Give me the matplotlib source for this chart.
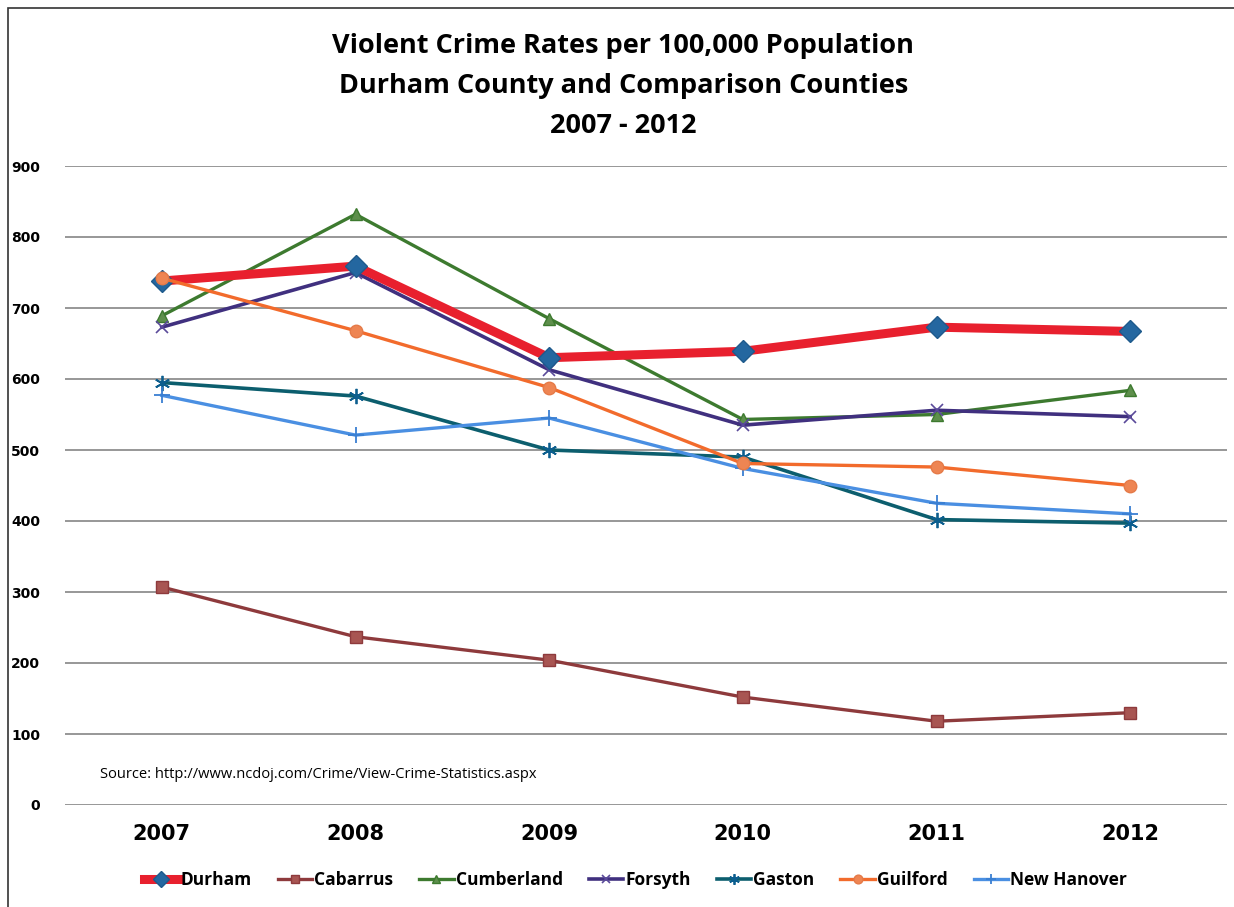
import matplotlib
matplotlib.use("Agg")
import matplotlib.pyplot as plt
from matplotlib.patches import Rectangle

years = ["2007", "2008", "2009", "2010", "2011", "2012"]
durham = [738, 759, 630, 639, 673, 667]
cabarrus = [307, 237, 204, 152, 118, 130]
cumberland = [689, 832, 685, 543, 550, 584]
forsyth = [673, 750, 613, 535, 556, 547]
gaston = [595, 576, 500, 490, 402, 397]
guilford = [742, 668, 588, 481, 476, 450]
new_hanover = [577, 521, 545, 474, 425, 410]

series = [
    ("Durham", durham, dict(color="#E8202E", lw=6.5, marker="D", ms=11, mfc="#2467A0", mec="#1E5A8C", zorder=5)),
    ("Cabarrus", cabarrus, dict(color="#8E3A3C", lw=2.4, marker="s", ms=8, mfc="#A85552", mec="#8E3A3C")),
    ("Cumberland", cumberland, dict(color="#3D7A2F", lw=2.4, marker="^", ms=9, mfc="#5E8F4C", mec="#3D7A2F")),
    ("Forsyth", forsyth, dict(color="#40307F", lw=2.6, marker="x", ms=9, mec="#5A4A9A", mew=1.2)),
    ("Gaston", gaston, dict(color="#0C5E6E", lw=2.6, marker=(6, 2, 0), ms=11, mec="#0C5E8E", mew=1.3)),
    ("Guilford", guilford, dict(color="#F26B2C", lw=2.4, marker="o", ms=9, mfc="#EE8553", mec="#E57A48", zorder=6)),
    ("New Hanover", new_hanover, dict(color="#4A8FE2", lw=2.4, marker="+", ms=11, mec="#3A7FD2", mew=1.3)),
]

fig = plt.figure(figsize=(12.34, 9.07), dpi=100)
ax = fig.add_axes([65 / 1234, 1 - 805 / 907, (1227 - 65) / 1234, (805 - 166) / 907])

x = list(range(len(years)))
handles = []
for name, vals, st in series:
    h, = ax.plot(x, vals, label=name, **st)
    handles.append(h)

ax.set_xlim(-0.5, len(years) - 0.5)
ax.set_ylim(0, 900)
ax.set_yticks(range(0, 901, 100))
ax.set_xticks(x)
ax.set_xticklabels(years, fontsize=15, fontweight="bold", family="DejaVu Sans")
for lab in ax.get_yticklabels():
    lab.set_fontsize(10)
    lab.set_fontweight("bold")
ax.tick_params(axis="y", length=0, pad=18)
ax.tick_params(axis="x", length=0, pad=14)
ax.grid(axis="y", color="#7a7a7a", lw=1.1)
ax.set_axisbelow(True)
for s in ax.spines.values():
    s.set_visible(False)

title_lines = ["Violent Crime Rates per 100,000 Population",
               "Durham County and Comparison Counties",
               "2007 - 2012"]
for i, line in enumerate(title_lines):
    fig.text(0.505, 1 - (46 + 40 * i) / 907, line, ha="center", va="center",
             fontsize=19.5, fontweight="bold", family="Open Sans")

fig.text(100 / 1234, 1 - 775 / 907, "Source: http://www.ncdoj.com/Crime/View-Crime-Statistics.aspx",
         fontsize=10.5, family="Open Sans", va="center")

fig.legend(handles=handles, loc="center", bbox_to_anchor=(0.515, 1 - 880 / 907), ncol=7,
           frameon=False, handlelength=2.0, handletextpad=0.1, columnspacing=1.5,
           markerscale=0.7, prop=dict(size=12.5, weight="bold", family="Open Sans"))

fig.add_artist(Rectangle((8 / 1234, -0.01), 1.1, 1 - 8 / 907 + 0.01, transform=fig.transFigure,
                         fill=False, ec="#333333", lw=1.2))

fig.savefig("out.png", dpi=100, facecolor="white")
